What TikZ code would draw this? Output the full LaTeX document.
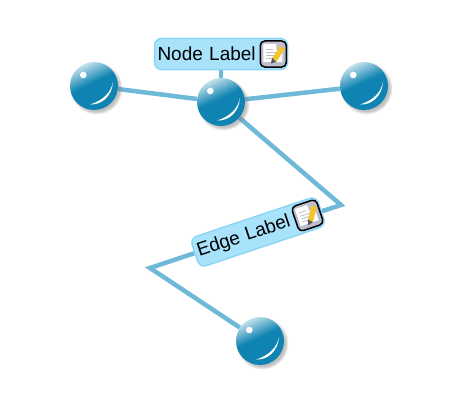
\documentclass[tikz,border=0pt]{standalone}
\usepackage{fontspec}
\setmainfont{Liberation Sans}
\usetikzlibrary{calc}
\usetikzlibrary{shadows}
\usetikzlibrary{backgrounds}

\definecolor{ballblue}{HTML}{0F84B2}
\definecolor{ballpale}{HTML}{CFE6EF}
\definecolor{edgeblue}{HTML}{6FB9D8}
\definecolor{labelfill}{HTML}{A8E3FB}
\definecolor{labelline}{HTML}{8CD6F4}
\definecolor{pencil}{HTML}{F4C430}
\pgfdeclareverticalshading{ballshade}{100bp}{color(0bp)=(ballblue); color(54bp)=(ballblue); color(76bp)=(ballpale); color(100bp)=(ballpale)}

\begin{document}
\begin{tikzpicture}[x=1pt, y=1pt,
  ball/.style = {shape=circle, minimum size=48pt, inner sep=0pt,
    shading=ballshade, shading angle=25,
    circular drop shadow={shadow xshift=2pt, shadow yshift=-2pt,
      shadow scale=1.1, opacity=.5},
    path picture={
      \begin{scope}[shift={(path picture bounding box.center)}]
        \fill[white] (-10.7,11) circle (3.3);
        \fill[white] (-4,-18.5) .. controls (8,-19) and (18,-10) .. (19,4)
          .. controls (17,-7) and (8,-15) .. cycle;
      \end{scope}}},
  link/.style = {draw=edgeblue, line width=4.5pt},
  tag/.style = {shape=rectangle, rounded corners=7pt, draw=labelline,
    line width=1.5pt, fill=labelfill, minimum width=133pt, minimum height=31pt,
    inner sep=0pt, text width=127pt, align=left, font=\fontsize{19}{21}\selectfont},
  noteicon/.pic = {
    \draw[black, line width=1.5pt, rounded corners=4.5pt, fill=blue!15!gray!45]
      (-13,-13) rectangle (13,13);
    \fill[white] (-10,10) -- (3,10) -- (9,4) -- (9,-8) -- (-10,-8) -- cycle;
    \fill[gray!50] (3,10) -- (3,4) -- (9,4) -- cycle;
    \foreach \y in {1.5,-1.5,-4.5}
      \draw[gray!50, line width=.8pt] (-7,\y) -- (3,\y);
    \draw[gray!50, line width=.8pt] (-7,5) -- (0,5);
    \fill[pencil] (-1,-4) -- (7,8) -- (11.5,5) -- (3,-8) -- cycle;
    \fill[gray!70!black] (-1,-4) -- (3,-8) -- (-2.5,-9.5) -- cycle;
  }]
  \useasboundingbox (0,0) rectangle (460,400);

  \node[ball] (ballleft) at (94,314) {};
  \node[ball] (ballcenter) at (221,298) {};
  \node[ball] (ballright) at (364,314) {};
  \node[ball] (ballbottom) at (260,59) {};

  \coordinate (bendupper) at (341,195);
  \coordinate (bendlower) at (150,132);

  \node[tag] (nodelabel) at (221,346) {Node Label};
  \node[tag, rotate=18.5] (edgelabel) at (258,168) {Edge Label};
  \pic at ($(nodelabel.east)!15pt!(nodelabel.west)$) {noteicon};
  \pic[rotate=18.5] at ($(edgelabel.east)!15pt!(edgelabel.west)$) {noteicon};

  \begin{scope}[on background layer]
    \draw[link] (ballleft) -- (ballcenter);
    \draw[link] (ballcenter) -- (ballright);
    \draw[link] (ballcenter) -- (nodelabel);
    \draw[link] (ballcenter) -- (bendupper) -- (edgelabel);
    \draw[link] (edgelabel) -- (bendlower) -- (ballbottom);
  \end{scope}
\end{tikzpicture}
\end{document}
